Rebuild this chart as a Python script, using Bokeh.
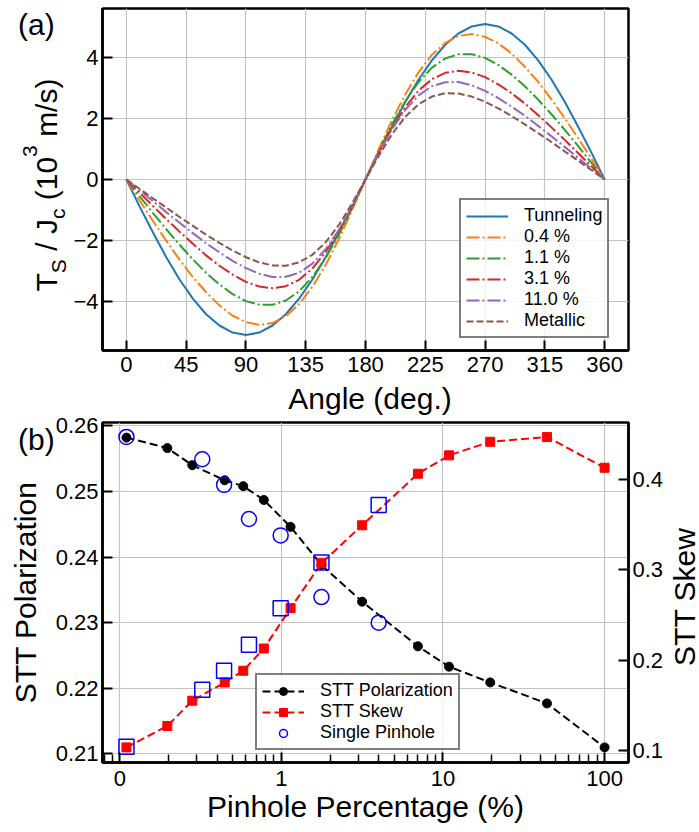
from math import pi
from bokeh.plotting import figure
from bokeh.models import (Range1d, LinearAxis, FixedTicker, CustomJSTickFormatter,
                          NumeralTickFormatter, Legend, LegendItem, Div)
from bokeh.layouts import column
from bokeh.embed import file_html
from bokeh.resources import INLINE

FONT = "Liberation Sans"

# ---------------- Panel (a) data ----------------
angle_deg = [0, 10, 20, 30, 40, 50, 60, 70, 80, 90, 100, 110, 120, 130, 140, 150, 160, 170, 180,
             190, 200, 210, 220, 230, 240, 250, 260, 270, 280, 290, 300, 310, 320, 330, 340, 350, 360]
tunneling = [0, -0.89, -1.74, -2.55, -3.28, -3.91, -4.42, -4.79, -5.02, -5.10, -5.02, -4.79, -4.42,
             -3.91, -3.28, -2.55, -1.74, -0.89, 0, 0.89, 1.74, 2.55, 3.28, 3.91, 4.42, 4.79, 5.02,
             5.10, 5.02, 4.79, 4.42, 3.91, 3.28, 2.55, 1.74, 0.89, 0]
pin_0_4 = [0, -0.69, -1.36, -2.01, -2.63, -3.20, -3.70, -4.13, -4.47, -4.68, -4.77, -4.71, -4.48,
           -4.09, -3.52, -2.80, -1.95, -1.00, 0, 1.00, 1.95, 2.80, 3.52, 4.09, 4.48, 4.71, 4.77,
           4.68, 4.47, 4.13, 3.70, 3.20, 2.63, 2.01, 1.36, 0.69, 0]
pin_1_1 = [0, -0.55, -1.10, -1.63, -2.14, -2.62, -3.06, -3.44, -3.76, -3.99, -4.11, -4.11, -3.97,
           -3.67, -3.20, -2.57, -1.81, -0.93, 0, 0.93, 1.81, 2.57, 3.20, 3.67, 3.97, 4.11, 4.11,
           3.99, 3.76, 3.44, 3.06, 2.62, 2.14, 1.63, 1.10, 0.55, 0]
pin_3_1 = [0, -0.44, -0.87, -1.30, -1.71, -2.11, -2.49, -2.83, -3.12, -3.36, -3.51, -3.57, -3.50,
           -3.29, -2.92, -2.38, -1.69, -0.88, 0, 0.88, 1.69, 2.38, 2.92, 3.29, 3.50, 3.57, 3.51,
           3.36, 3.12, 2.83, 2.49, 2.11, 1.71, 1.30, 0.87, 0.44, 0]
pin_11_0 = [0, -0.36, -0.71, -1.07, -1.42, -1.76, -2.09, -2.39, -2.67, -2.91, -3.09, -3.20, -3.19,
            -3.06, -2.76, -2.29, -1.65, -0.86, 0, 0.86, 1.65, 2.29, 2.76, 3.06, 3.19, 3.20, 3.09,
            2.91, 2.67, 2.39, 2.09, 1.76, 1.42, 1.07, 0.71, 0.36, 0]
metallic = [0, -0.31, -0.62, -0.92, -1.23, -1.52, -1.81, -2.08, -2.33, -2.55, -2.72, -2.82, -2.83,
            -2.72, -2.47, -2.06, -1.49, -0.78, 0, 0.78, 1.49, 2.06, 2.47, 2.72, 2.83, 2.82, 2.72,
            2.55, 2.33, 2.08, 1.81, 1.52, 1.23, 0.92, 0.62, 0.31, 0]
series_labels = ["Tunneling", "0.4 %", "1.1 %", "3.1 %", "11.0 %", "Metallic"]
angle_ticks = [0, 45, 90, 135, 180, 225, 270, 315, 360]
ts_ticks = [-4, -2, 0, 2, 4]

# ---------------- Panel (b) data ----------------
pinhole_pct = [0.11, 0.197, 0.281, 0.446, 0.581, 0.779, 1.14, 1.77, 3.16, 7.0, 10.9, 19.6, 44.0, 100.0]
stt_pol = [0.2582, 0.2566, 0.2540, 0.2517, 0.2508, 0.2487, 0.2446, 0.2388, 0.2332, 0.2264,
           0.2233, 0.2209, 0.2177, 0.2110]
stt_skew = [0.1037, 0.1274, 0.1553, 0.1755, 0.1884, 0.2130, 0.2576, 0.3073, 0.3492, 0.4062,
            0.4265, 0.4415, 0.4467, 0.4128]
single_pct = [0.11, 0.324, 0.442, 0.63, 0.99, 1.77, 4.0]
single_pol = [0.2583, 0.2549, 0.2510, 0.2458, 0.2433, 0.2339, 0.2300]
single_skew = [0.1045, 0.1674, 0.1884, 0.2171, 0.2576, 0.3080, 0.3716]
pct_major_ticks = [0.1, 1, 10, 100]
pct_minor_ticks = [0.08, 0.09, 0.2, 0.3, 0.4, 0.5, 0.6, 0.7, 0.8, 0.9,
                   2, 3, 4, 5, 6, 7, 8, 9, 20, 30, 40, 50, 60, 70, 80, 90]
pol_ticks = [0.21, 0.22, 0.23, 0.24, 0.25, 0.26]
skew_ticks = [0.1, 0.2, 0.3, 0.4]

H_A = 400
H_B = 432
TICK_FS = "22px"


def style_axis(ax, standoff):
    ax.axis_line_color = "black"
    ax.axis_line_width = 2.5
    ax.major_tick_line_color = "black"
    ax.major_tick_line_width = 2
    ax.major_tick_in = 10
    ax.major_tick_out = 0
    ax.minor_tick_in = 0
    ax.minor_tick_out = 0
    ax.major_label_text_font = FONT
    ax.major_label_text_font_size = TICK_FS
    ax.major_label_text_color = "black"
    ax.major_label_standoff = standoff
    ax.axis_label_text_font = FONT
    ax.axis_label_text_font_size = "30px"
    ax.axis_label_text_font_style = "normal"
    ax.axis_label_text_color = "black"


def style_fig(p):
    p.outline_line_color = "black"
    p.outline_line_width = 2.5
    p.outline_line_alpha = 1.0
    p.background_fill_color = "white"
    p.border_fill_color = "white"
    for g in (p.xgrid, p.ygrid):
        g.grid_line_color = "#c4c4c4"
        g.grid_line_width = 1.2


def style_legend(leg):
    leg.label_text_font = FONT
    leg.label_text_font_size = "18px"
    leg.label_text_color = "black"
    leg.glyph_width = 42
    leg.glyph_height = 20
    leg.label_height = 20
    leg.spacing = 0
    leg.padding = 5
    leg.margin = 0
    leg.label_standoff = 16
    leg.border_line_color = "black"
    leg.border_line_width = 2
    leg.background_fill_alpha = 0.8


# ================= Panel (a) =================
pa = figure(width=699, height=H_A, x_range=Range1d(-18, 378), y_range=Range1d(-5.61, 5.61),
            output_backend="svg", toolbar_location=None,
            min_border_left=102, min_border_right=71, min_border_top=8, min_border_bottom=H_A - 350)
style_fig(pa)
pa.xaxis.ticker = FixedTicker(ticks=angle_ticks)
pa.yaxis.ticker = FixedTicker(ticks=ts_ticks)
pa.yaxis.formatter = CustomJSTickFormatter(
    code="return tick < 0 ? '\u2212' + Math.abs(tick) : tick.toString();")
style_axis(pa.xaxis[0], 6)
style_axis(pa.yaxis[0], 4)

series = [tunneling, pin_0_4, pin_1_1, pin_3_1, pin_11_0, metallic]
colors = ["#1f77b4", "#ff7f0e", "#2ca02c", "#d62728", "#9467bd", "#8c564b"]
dashes = ["solid", "13 3 2 3", "13 3 2 3", "13 3 2 3", "13 3 2 3", "7 3"]
items_a = []
for vals, lab, col, dsh in zip(series, series_labels, colors, dashes):
    r = pa.line(angle_deg, vals, line_color=col, line_width=2, line_dash=dsh)
    items_a.append(LegendItem(label=lab, renderers=[r]))

leg_a = Legend(items=items_a, location=(357, 12))
style_legend(leg_a)
pa.add_layout(leg_a)

# ================= Panel (b) =================
pb = figure(width=699, height=H_B, x_axis_type="log", x_range=Range1d(0.0782, 140.6),
            y_range=Range1d(0.2087, 0.2605), output_backend="svg", toolbar_location=None,
            min_border_left=102, min_border_right=71, min_border_top=422 - H_A,
            min_border_bottom=832 - 762)
style_fig(pb)
pb.extra_y_ranges = {"skew": Range1d(0.087, 0.4628)}

xax = pb.xaxis[0]
xax.ticker = FixedTicker(ticks=pct_major_ticks, minor_ticks=pct_minor_ticks)
xax.formatter = CustomJSTickFormatter(
    code="return tick < 0.5 ? '0' : Math.round(tick).toString();")
style_axis(xax, 8)
xax.minor_tick_in = 8
xax.minor_tick_out = 0
xax.minor_tick_line_color = "black"
xax.minor_tick_line_width = 1.5
xax.axis_label = "Pinhole Percentage (%)"
xax.axis_label_standoff = 1

lax = pb.left[0]
lax.ticker = FixedTicker(ticks=pol_ticks)
lax.formatter = NumeralTickFormatter(format="0.00")
style_axis(lax, 4)
lax.axis_label = "STT Polarization"
lax.axis_label_standoff = 11

rax = LinearAxis(y_range_name="skew", ticker=FixedTicker(ticks=skew_ticks),
                 formatter=NumeralTickFormatter(format="0.0"))
style_axis(rax, 4)
pb.add_layout(rax, "right")

l_pol = pb.line(pinhole_pct, stt_pol, line_color="black", line_width=2, line_dash="8 4")
s_pol = pb.scatter(pinhole_pct, stt_pol, marker="circle", size=9,
                   fill_color="black", line_color="black")
l_skew = pb.line(pinhole_pct, stt_skew, line_color="red", line_width=2, line_dash="8 4",
                 y_range_name="skew")
s_skew = pb.scatter(pinhole_pct, stt_skew, marker="square", size=9,
                    fill_color="red", line_color="red", y_range_name="skew")
c_single = pb.scatter(single_pct, single_pol, marker="circle", size=15,
                      fill_color=None, line_color="blue", line_width=1.5)
q_single = pb.scatter(single_pct, single_skew, marker="square", size=15,
                      fill_color=None, line_color="blue", line_width=1.5, y_range_name="skew")

leg_b = Legend(items=[LegendItem(label="STT Polarization", renderers=[l_pol, s_pol]),
                      LegendItem(label="STT Skew", renderers=[l_skew, s_skew]),
                      LegendItem(label="Single Pinhole", renderers=[c_single])],
               location=(153, 12))
style_legend(leg_b)
pb.add_layout(leg_b)

# ------------- free texts: titles that Bokeh cannot place by itself -------------
BASE = H_A + H_B  # the overlay div sits below both figures; offsets are measured from there
txt = "font-family:'Liberation Sans'; color:black; white-space:nowrap; font-size:30px;"
overlay_html = (
    f"<div style=\"position:absolute; left:13px; top:{4.6 - BASE}px; line-height:30px; {txt}\">(a)</div>"
    f"<div style=\"position:absolute; left:13px; top:{419.6 - BASE}px; line-height:30px; {txt}\">(b)</div>"
    f"<div style=\"position:absolute; left:365px; top:{379 - BASE}px; line-height:30px; {txt} "
    f"transform:translate(-50%,0);\">Angle (deg.)</div>"
    f"<div style=\"position:absolute; left:679.5px; top:{592 - BASE}px; line-height:24px; {txt} "
    f"transform:translate(-50%,-50%) rotate(-90deg);\">STT Skew</div>"
    f"<div style=\"position:absolute; left:42.6px; top:{180 - BASE}px; line-height:30px; {txt} "
    f"transform:translate(-50%,-50%) rotate(-90deg);\">"
    "T<span style=\"font-size:21px; position:relative; top:9px;\">S</span> / J"
    "<span style=\"font-size:21px; position:relative; top:8px;\">c</span> (10"
    "<span style=\"font-size:21px; position:relative; top:-20px;\">3</span> m/s)</div>"
)
overlay = Div(text=overlay_html, width=699, height=0,
              styles={"position": "relative", "overflow": "visible", "z-index": "10"})

layout = column(pa, pb, overlay, spacing=0)
open("out.html", "w").write(file_html(layout, INLINE))
